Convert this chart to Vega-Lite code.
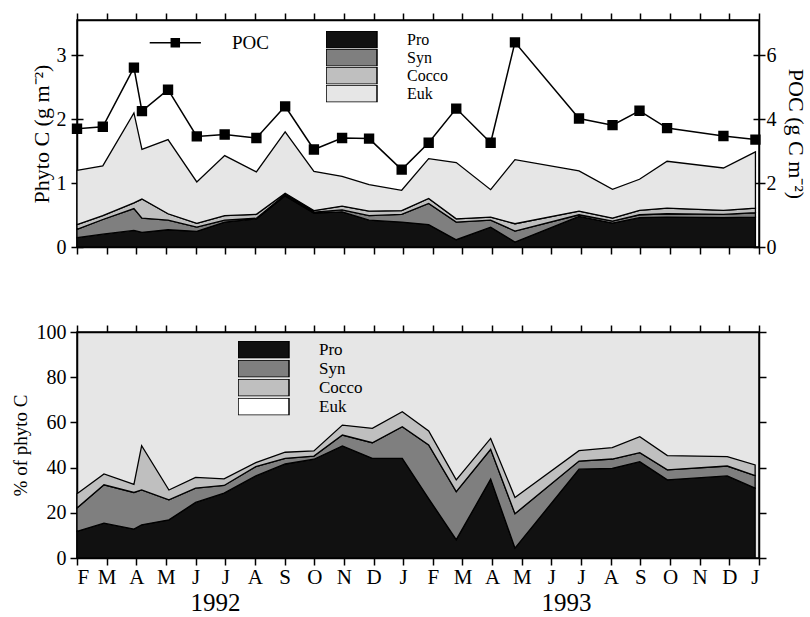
{
  "$schema": "https://vega.github.io/schema/vega-lite/v6.json",
  "padding": {"left": 10, "top": 11, "right": 5, "bottom": 0},
  "background": "white",
  "bounds": "flush",
  "spacing": 85,
  "datasets": {
    "abs": [
      {"t": 0, "Pro": 0.146, "Syn": 0.13, "Cocco": 0.074, "Euk": 0.85, "POC": 3.70},
      {"t": 0.87, "Pro": 0.20, "Syn": 0.23, "Cocco": 0.06, "Euk": 0.778, "POC": 3.76},
      {"t": 1.92, "Pro": 0.26, "Syn": 0.34, "Cocco": 0.09, "Euk": 1.407, "POC": 5.61},
      {"t": 2.19, "Pro": 0.23, "Syn": 0.22, "Cocco": 0.30, "Euk": 0.778, "POC": 4.25},
      {"t": 3.07, "Pro": 0.27, "Syn": 0.15, "Cocco": 0.10, "Euk": 1.16, "POC": 4.92},
      {"t": 4.04, "Pro": 0.245, "Syn": 0.065, "Cocco": 0.06, "Euk": 0.647, "POC": 3.46},
      {"t": 4.98, "Pro": 0.39, "Syn": 0.03, "Cocco": 0.07, "Euk": 0.939, "POC": 3.52},
      {"t": 6.05, "Pro": 0.44, "Syn": 0.01, "Cocco": 0.06, "Euk": 0.664, "POC": 3.41},
      {"t": 7.02, "Pro": 0.80, "Syn": 0.02, "Cocco": 0.02, "Euk": 0.96, "POC": 4.40},
      {"t": 7.99, "Pro": 0.53, "Syn": 0.016, "Cocco": 0.024, "Euk": 0.614, "POC": 3.05},
      {"t": 8.94, "Pro": 0.55, "Syn": 0.03, "Cocco": 0.06, "Euk": 0.466, "POC": 3.41},
      {"t": 9.85, "Pro": 0.42, "Syn": 0.07, "Cocco": 0.07, "Euk": 0.415, "POC": 3.39},
      {"t": 10.95, "Pro": 0.39, "Syn": 0.12, "Cocco": 0.06, "Euk": 0.317, "POC": 2.42},
      {"t": 11.86, "Pro": 0.35, "Syn": 0.33, "Cocco": 0.08, "Euk": 0.622, "POC": 3.26},
      {"t": 12.79, "Pro": 0.114, "Syn": 0.276, "Cocco": 0.05, "Euk": 0.88, "POC": 4.33},
      {"t": 13.95, "Pro": 0.31, "Syn": 0.11, "Cocco": 0.048, "Euk": 0.429, "POC": 3.26},
      {"t": 14.77, "Pro": 0.078, "Syn": 0.172, "Cocco": 0.114, "Euk": 1.003, "POC": 6.40},
      {"t": 16.93, "Pro": 0.478, "Syn": 0.026, "Cocco": 0.058, "Euk": 0.627, "POC": 4.02},
      {"t": 18.06, "Pro": 0.374, "Syn": 0.032, "Cocco": 0.046, "Euk": 0.45, "POC": 3.81},
      {"t": 18.97, "Pro": 0.458, "Syn": 0.046, "Cocco": 0.068, "Euk": 0.487, "POC": 4.26},
      {"t": 19.9, "Pro": 0.468, "Syn": 0.052, "Cocco": 0.088, "Euk": 0.733, "POC": 3.72},
      {"t": 21.8, "Pro": 0.458, "Syn": 0.052, "Cocco": 0.062, "Euk": 0.664, "POC": 3.47},
      {"t": 22.88, "Pro": 0.468, "Syn": 0.068, "Cocco": 0.072, "Euk": 0.879, "POC": 3.36}
    ],
    "pct": [
      {"t": 0, "Pro": 11.8, "Syn": 10.3, "Cocco": 6.3},
      {"t": 0.91, "Pro": 15.4, "Syn": 17.0, "Cocco": 4.8},
      {"t": 1.92, "Pro": 12.8, "Syn": 16.2, "Cocco": 3.6},
      {"t": 2.18, "Pro": 14.7, "Syn": 15.4, "Cocco": 19.6},
      {"t": 3.1, "Pro": 16.9, "Syn": 8.8, "Cocco": 4.4},
      {"t": 4.0, "Pro": 24.6, "Syn": 6.3, "Cocco": 4.8},
      {"t": 4.96, "Pro": 28.7, "Syn": 3.4, "Cocco": 2.9},
      {"t": 6.03, "Pro": 36.3, "Syn": 4.1, "Cocco": 1.8},
      {"t": 7.02, "Pro": 41.6, "Syn": 2.5, "Cocco": 2.7},
      {"t": 7.99, "Pro": 43.7, "Syn": 1.4, "Cocco": 2.3},
      {"t": 8.95, "Pro": 49.6, "Syn": 4.8, "Cocco": 4.4},
      {"t": 9.96, "Pro": 44.1, "Syn": 6.9, "Cocco": 6.4},
      {"t": 10.97, "Pro": 44.1, "Syn": 14.0, "Cocco": 6.6},
      {"t": 11.86, "Pro": 26.3, "Syn": 23.7, "Cocco": 6.2},
      {"t": 12.79, "Pro": 8.1, "Syn": 21.3, "Cocco": 5.2},
      {"t": 13.95, "Pro": 34.9, "Syn": 13.2, "Cocco": 4.8},
      {"t": 14.77, "Pro": 4.4, "Syn": 15.2, "Cocco": 7.2},
      {"t": 16.93, "Pro": 39.3, "Syn": 3.6, "Cocco": 4.6},
      {"t": 18.05, "Pro": 39.7, "Syn": 4.1, "Cocco": 5.0},
      {"t": 18.98, "Pro": 42.6, "Syn": 4.0, "Cocco": 7.1},
      {"t": 19.91, "Pro": 34.6, "Syn": 4.4, "Cocco": 6.3},
      {"t": 21.93, "Pro": 36.3, "Syn": 4.4, "Cocco": 4.2},
      {"t": 22.87, "Pro": 30.9, "Syn": 5.6, "Cocco": 4.7}
    ],
    "grp": [
      {"g": "Pro", "i": 1},
      {"g": "Syn", "i": 2},
      {"g": "Cocco", "i": 3},
      {"g": "Euk", "i": 4}
    ]
  },
  "config": {
    "font": "Liberation Serif",
    "view": {"stroke": "black", "strokeWidth": 1.5},
    "axis": {
      "grid": false, "domain": true, "domainColor": "black", "domainWidth": 1.5,
      "tickColor": "black", "tickWidth": 1.5, "tickSize": 7,
      "labelFont": "Liberation Serif", "labelFontSize": 20, "labelColor": "black", "labelPadding": 4,
      "titleFont": "Liberation Serif", "titleFontSize": 22, "titleFontWeight": "normal", "titleColor": "black",
      "zindex": 1
    },
    "legend": {"labelFont": "Liberation Serif", "labelColor": "black", "padding": 0, "rowPadding": 0, "offset": 0}
  },
  "resolve": {"scale": {"color": "independent"}, "legend": {"color": "independent"}},
  "vconcat": [
    {
      "width": 682,
      "height": 227,
      "layer": [
        {
          "data": {"name": "abs"},
          "transform": [
            {"fold": ["Pro", "Syn", "Cocco", "Euk"], "as": ["g", "v"]},
            {"lookup": "g", "from": {"data": {"name": "grp"}, "key": "g", "fields": ["i"]}}
          ],
          "mark": {"type": "area", "stroke": "black", "strokeWidth": 1.3},
          "encoding": {
            "x": {"field": "t", "type": "quantitative", "scale": {"domain": [0, 23], "nice": false, "zero": false},
                  "axis": {"orient": "bottom", "values": [0,1,2,3,4,5,6,7,8,9,10,11,12,13,14,15,16,17,18,19,20,21,22,23], "labels": false, "title": null}},
            "y": {"field": "v", "type": "quantitative", "stack": "zero", "scale": {"domain": [0, 3.55], "nice": false},
                  "axis": {"orient": "left", "values": [0, 1, 2, 3], "title": "Phyto C (g m⁻²)", "tickSize": 6, "labelPadding": 5, "titlePadding": 3}},
            "color": {"field": "g", "type": "nominal",
                      "scale": {"domain": ["Pro", "Syn", "Cocco", "Euk"], "range": ["#111111", "#7f7f7f", "#bfbfbf", "#e6e6e6"]},
                      "legend": {"orient": "none", "legendX": 249, "legendY": 11, "title": null,
                                 "symbolType": "M-3.29,-1.113H3.29V1.113H-3.29Z", "symbolSize": 240.25,
                                 "symbolStrokeColor": "black", "symbolStrokeWidth": 1.5, "symbolOffset": 17,
                                 "labelOffset": 47, "labelFontSize": 16, "rowPadding": 0, "clipHeight": 17.25}},
            "order": {"field": "i", "type": "quantitative"}
          }
        },
        {
          "data": {"name": "abs"},
          "mark": {"type": "line", "strokeWidth": 1.5,
                   "point": {"filled": true, "fill": "black", "shape": "square", "size": 70, "opacity": 1}},
          "encoding": {
            "x": {"field": "t", "type": "quantitative",
                  "axis": {"orient": "top", "values": [0,1,2,3,4,5,6,7,8,9,10,11,12,13,14,15,16,17,18,19,20,21,22,23], "labels": false, "title": null}},
            "y": {"field": "POC", "type": "quantitative", "scale": {"domain": [0, 7.1], "nice": false},
                  "axis": {"orient": "right", "values": [0, 2, 4, 6], "title": "POC (g C m⁻²)", "tickSize": 6, "labelPadding": 1, "titlePadding": 7}},
            "stroke": {"datum": "POC", "type": "nominal", "scale": {"range": ["black"]},
                       "legend": {"orient": "none", "legendX": 72.7, "legendY": 13.2, "title": null,
                                  "symbolType": "M-6.4,0H6.4M-1,-1H1V1H-1Z", "symbolSize": 64,
                                  "symbolStrokeWidth": 1.5, "symbolOffset": 16.1, "labelOffset": 47.2, "labelFontSize": 19,
                                  "encode": {"symbols": {"update": {"fill": {"value": "black"}, "stroke": {"value": "black"}}}}}}
          }
        },
        {
          "mark": {"type": "text", "font": "Liberation Serif", "fontSize": 24, "color": "black", "align": "center", "baseline": "middle"},
          "encoding": {
            "x": {"datum": 21.71, "type": "quantitative", "axis": null},
            "y": {"datum": 6.12, "type": "quantitative", "scale": {"domain": [0, 7.1], "nice": false},
                  "axis": {"orient": "left", "values": [0, 2, 4, 6], "labels": false, "domain": false, "tickSize": -6, "title": null}},
            "text": {"value": "A"}
          }
        },
        {
          "data": {"name": "abs"},
          "mark": {"type": "point", "opacity": 0},
          "encoding": {
            "x": {"field": "t", "type": "quantitative", "axis": null},
            "y": {"field": "POC", "type": "quantitative", "scale": {"domain": [0, 7.1], "nice": false},
                  "axis": {"orient": "right", "values": [0, 2, 4, 6], "labels": false, "domain": false, "tickSize": -6, "title": null}}
          }
        }
      ],
      "resolve": {"scale": {"y": "independent"}, "axis": {"x": "independent"}}
    },
    {
      "width": 682,
      "height": 226,
      "view": {"fill": "#e6e6e6", "stroke": "black", "strokeWidth": 1.5},
      "layer": [
        {
          "data": {"name": "pct"},
          "transform": [
            {"fold": ["Pro", "Syn", "Cocco"], "as": ["g", "v"]},
            {"lookup": "g", "from": {"data": {"name": "grp"}, "key": "g", "fields": ["i"]}}
          ],
          "mark": {"type": "area", "stroke": "black", "strokeWidth": 1.3},
          "encoding": {
            "x": {"field": "t", "type": "quantitative", "scale": {"domain": [0, 23], "nice": false, "zero": false},
                  "axis": {"orient": "bottom", "values": [0,1,2,3,4,5,6,7,8,9,10,11,12,13,14,15,16,17,18,19,20,21,22,23],
                           "labelExpr": "['F','M','A','M','J','J','A','S','O','N','D','J'][datum.value % 12]",
                           "labelFontSize": 21, "labelPadding": 1, "title": null}},
            "y": {"field": "v", "type": "quantitative", "stack": "zero", "scale": {"domain": [0, 100], "nice": false},
                  "axis": {"orient": "left", "values": [0, 20, 40, 60, 80, 100], "title": "% of phyto C", "titleFontSize": 19, "labelPadding": 4, "titlePadding": 6}},
            "color": {"field": "g", "type": "nominal",
                      "scale": {"domain": ["Pro", "Syn", "Cocco", "Euk"], "range": ["#111111", "#7f7f7f", "#bfbfbf", "#ffffff"]},
                      "legend": {"orient": "none", "legendX": 161, "legendY": 9, "title": null,
                                 "symbolType": "M-3.29,-1.113H3.29V1.113H-3.29Z", "symbolSize": 240.25,
                                 "symbolStrokeColor": "black", "symbolStrokeWidth": 1.5, "symbolOffset": 17,
                                 "labelOffset": 47, "labelFontSize": 17, "rowPadding": 0, "clipHeight": 17.25}},
            "order": {"field": "i", "type": "quantitative"}
          }
        },
        {
          "mark": {"type": "text", "font": "Liberation Serif", "fontSize": 23, "color": "black", "align": "center", "baseline": "middle"},
          "encoding": {
            "x": {"datum": 21.65, "type": "quantitative",
                  "axis": {"orient": "top", "values": [0,1,2,3,4,5,6,7,8,9,10,11,12,13,14,15,16,17,18,19,20,21,22,23], "labels": false, "title": null}},
            "y": {"datum": 90, "type": "quantitative",
                  "axis": {"orient": "right", "values": [0, 20, 40, 60, 80, 100], "labels": false, "title": null}},
            "text": {"value": "B"}
          }
        },
        {
          "data": {"name": "pct"},
          "mark": {"type": "point", "opacity": 0},
          "encoding": {
            "x": {"field": "t", "type": "quantitative",
                  "axis": {"orient": "bottom", "values": [4.65, 16.49], "labelExpr": "datum.value < 10 ? '1992' : '1993'",
                           "ticks": false, "tickSize": 0, "domain": false, "labelPadding": 32.5, "labelFontSize": 25, "title": null}}
          }
        }
      ],
      "resolve": {"axis": {"x": "independent", "y": "independent"}}
    }
  ]
}
